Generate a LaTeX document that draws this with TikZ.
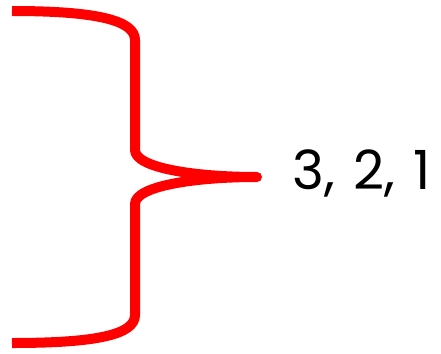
\documentclass[tikz,border=0pt]{standalone}
\usepackage{fontspec}
\newfontfamily\labelfont{Poppins}
\begin{document}
\begin{tikzpicture}[x=1pt,y=-1pt,
  bracestyle/.style={draw=red,line width=10pt,line join=round,line cap=butt},
  labelstyle/.style={font=\labelfont\fontsize{54}{60}\selectfont,inner sep=0pt,anchor=west}]
\useasboundingbox (0,0) rectangle (441,353);
\coordinate (tl) at (12,11);
\coordinate (bl) at (12,343);
\coordinate (tip) at (257,177);
\draw[bracestyle] (tl) .. controls (95,11) and (135,20) .. (135,40)
  -- (135,150) .. controls (135,168) and (195,177) .. (tip)
  .. controls (195,177) and (135,186) .. (135,204)
  -- (135,315) .. controls (135,335) and (95,343) .. (bl);
\node[labelstyle] (lbl) at (292,173) {3,\hspace{4pt} 2,\hspace{4pt} 1};
\end{tikzpicture}
\end{document}
